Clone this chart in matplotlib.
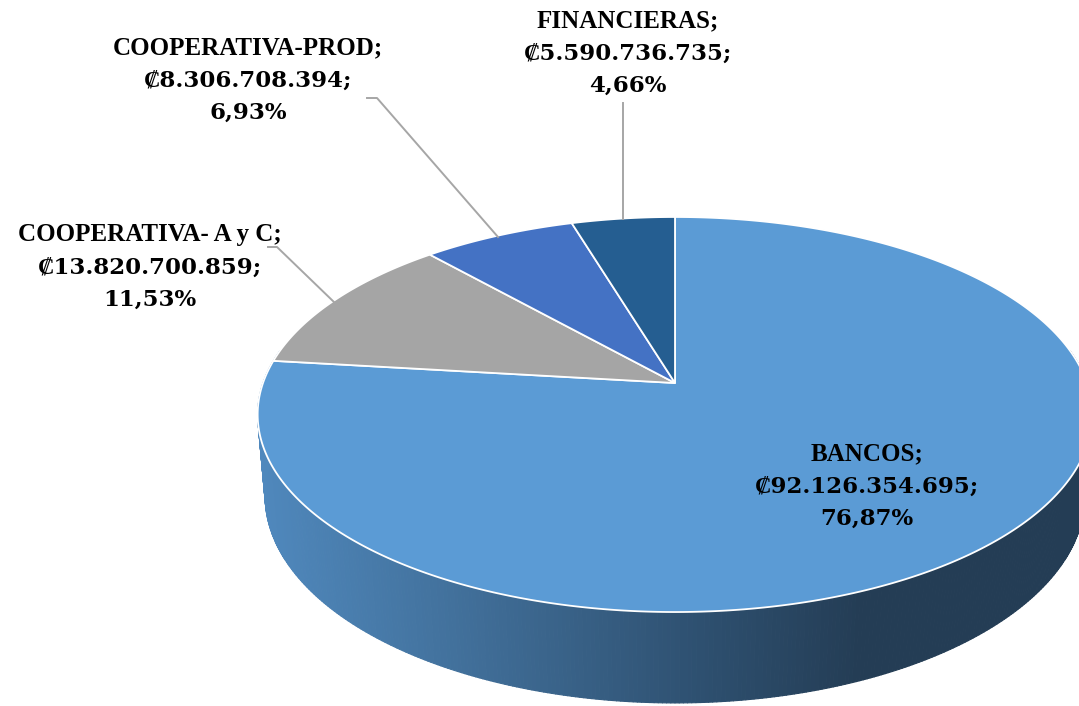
import numpy as np
import matplotlib.pyplot as plt
from matplotlib.collections import PolyCollection
from matplotlib.patches import Polygon

# data
categories = ['BANCOS', 'COOPERATIVA- A y C', 'COOPERATIVA-PROD', 'FINANCIERAS']
amounts = [92126354695, 13820700859, 8306708394, 5590736735]
colors = ['#5B9BD5', '#A5A5A5', '#4472C4', '#255E91']

# label block centres (pixels) and leader lines
label_pos = [(867, 484), (150, 265), (248, 78), (628, 51)]
leaders = [None,
           [(268, 247), (277, 247), (335, 303)],
           [(367, 98), (377, 98), (498, 237)],
           [(623, 103), (623, 219)]]

# 3D pie projection (pixel space)
X0, Y0 = 675.0, 383.0
A, B, K = 412.0, 192.5, 0.1595
C, E = 82.1, 0.0178


def proj(theta, r=1.0, d=0.0):
    # theta in degrees, clockwise from 12 o'clock
    t = np.radians(theta)
    x = r * np.sin(t)
    y = -r * np.cos(t)
    w = 1 - K * y + E * d
    return X0 + A * x / w, Y0 + (B * y + C * d) / w


def fmt_amount(v):
    return '\u20a1' + f'{v:,}'.replace(',', '.')


def fmt_pct(p):
    return f'{p:.2f}'.replace('.', ',') + '%'


total = sum(amounts)
fracs = [a / total for a in amounts]

fig = plt.figure(figsize=(10.79, 7.06), dpi=100)
ax = fig.add_axes([0, 0, 1, 1])
ax.set_xlim(0, 1079)
ax.set_ylim(706, 0)
ax.axis('off')

# side wall of the cylinder (front part, only BANCOS is visible there)
stop_x = [250, 450, 700, 860, 1100]
stop_c = np.array([[80, 137, 190], [66, 113, 156], [46, 80, 112],
                   [36, 61, 85], [36, 61, 85]]) / 255.0
thetas = np.arange(80, 280.01, 0.5)
quads, qcols = [], []
for t1, t2 in zip(thetas[:-1], thetas[1:]):
    p1 = proj(t1)
    p2 = proj(t2)
    p3 = proj(t2, d=1.0)
    p4 = proj(t1, d=1.0)
    quads.append([p1, p2, p3, p4])
    mx = (p1[0] + p2[0]) / 2
    qcols.append([np.interp(mx, stop_x, stop_c[:, i]) for i in range(3)])
side = PolyCollection(quads, facecolors=qcols, edgecolors=qcols,
                      linewidths=0.8, zorder=1)
ax.add_collection(side)

# top face wedges
start = 0.0
for frac, col in zip(fracs, colors):
    end = start + frac * 360
    ts = np.linspace(start, end, max(int(frac * 720), 4))
    pts = [proj(0, r=0)] + [proj(t) for t in ts]
    ax.add_patch(Polygon(pts, closed=True, facecolor=col, edgecolor='white',
                         linewidth=1.3, zorder=2))
    start = end

# labels, one text per line
line_gap = 32.5
for name, amt, frac, pos, lead in zip(categories, amounts, fracs, label_pos, leaders):
    lines = [f'{name};', f'{fmt_amount(amt)};', fmt_pct(frac * 100)]
    for i, s in enumerate(lines):
        yb = pos[1] + (i - 1) * line_gap + 8.5
        if i == 0:
            ax.text(pos[0], yb, s, ha='center', va='baseline', fontsize=18,
                    fontweight='bold', family=['Liberation Serif', 'DejaVu Serif'],
                    color='black', zorder=4)
        else:
            ax.text(pos[0], yb, s, ha='center', va='baseline', fontsize=16.5,
                    fontweight='bold', family=['DejaVu Serif', 'Liberation Serif'],
                    color='black', zorder=4)
    if lead:
        lx, ly = zip(*lead)
        ax.plot(lx, ly, color='#A6A6A6', linewidth=1.4, zorder=3)

fig.savefig('out.png', dpi=100)
